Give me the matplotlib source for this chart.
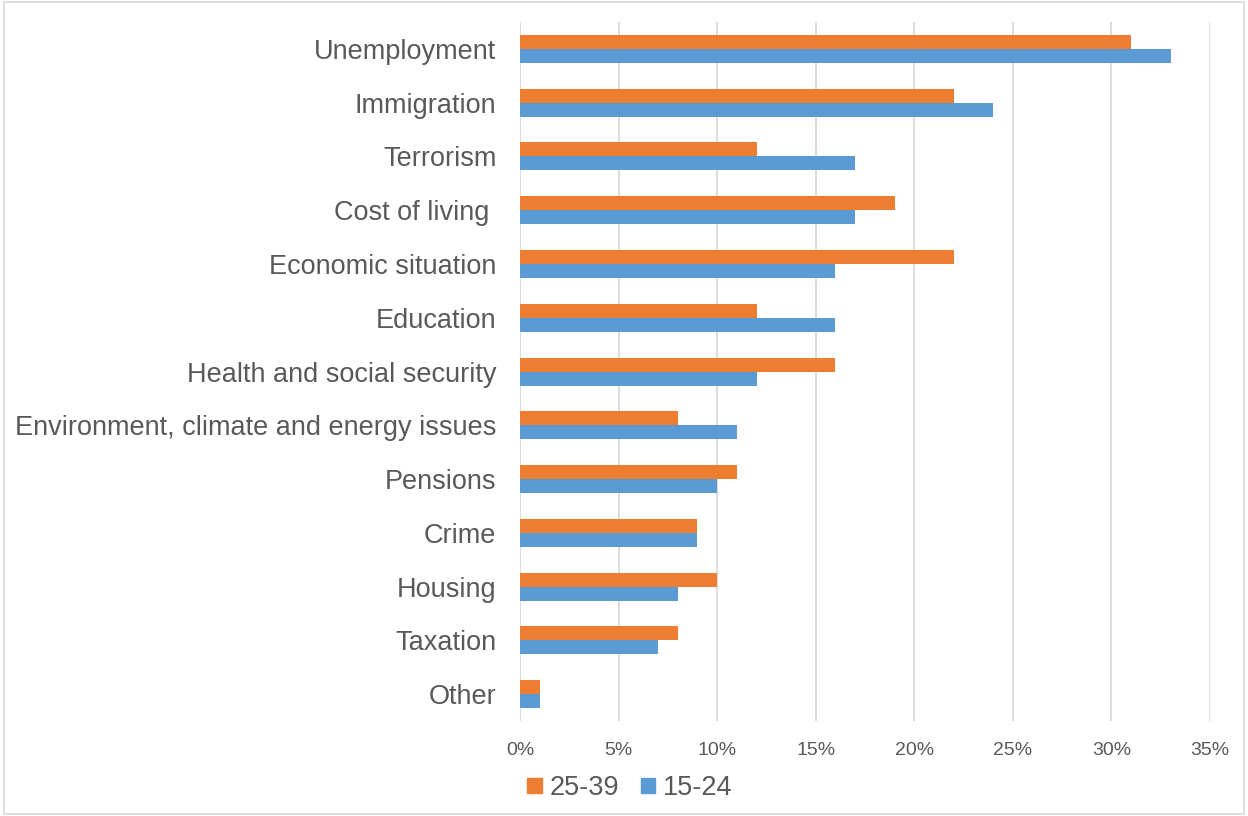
import numpy as np
import matplotlib.pyplot as plt
from matplotlib.patches import Rectangle, Patch

plt.rcParams['font.family'] = ['Liberation Sans', 'DejaVu Sans']

categories = ['Unemployment', 'Immigration', 'Terrorism', 'Cost of living ',
              'Economic situation', 'Education', 'Health and social security',
              'Environment, climate and energy issues', 'Pensions', 'Crime',
              'Housing', 'Taxation', 'Other']
age_25_39 = [31, 22, 12, 19, 22, 12, 16, 8, 11, 9, 10, 8, 1]
age_15_24 = [33, 24, 17, 17, 16, 16, 12, 11, 10, 9, 8, 7, 1]
xticks = [0, 5, 10, 15, 20, 25, 30, 35]

orange = '#ED7D31'
blue = '#5B9BD5'
text_grey = '#595959'

fig = plt.figure(figsize=(12.48, 8.16), dpi=100)
ax = fig.add_axes([0.4167, 0.1164, 0.5529, 0.8566])

y = np.arange(len(categories))
h = 0.26
ax.barh(y - h / 2, age_25_39, height=h, color=orange, zorder=3)
ax.barh(y + h / 2, age_15_24, height=h, color=blue, zorder=3)

ax.set_ylim(len(categories) - 0.5, -0.5)
ax.set_xlim(0, 35)
ax.set_yticks(y)
ax.set_yticklabels(categories, fontsize=19.5, color=text_grey)
ax.set_xticks(xticks)
ax.set_xticklabels([f'{t}%' for t in xticks], fontsize=14, color=text_grey)
ax.tick_params(axis='both', length=0)
ax.tick_params(axis='y', pad=17)
ax.tick_params(axis='x', pad=15)

ax.grid(axis='x', color='#D9D9D9', linewidth=1.3, zorder=0)
for s in ax.spines.values():
    s.set_visible(False)

handles = [Patch(color=orange, label='25-39'), Patch(color=blue, label='15-24')]
fig.legend(handles=handles, loc='center', bbox_to_anchor=(630 / 1248, 1 - 788 / 816),
           ncol=2, frameon=False, fontsize=19.5, handlelength=0.52, handleheight=0.52,
           handletextpad=0.3, columnspacing=0.8, labelcolor=text_grey)

fig.patches.append(Rectangle((0.003, 0.003), 0.994, 0.994, transform=fig.transFigure,
                             fill=False, edgecolor='#D9D9D9', linewidth=1.2))

fig.savefig('out.png', dpi=100)
